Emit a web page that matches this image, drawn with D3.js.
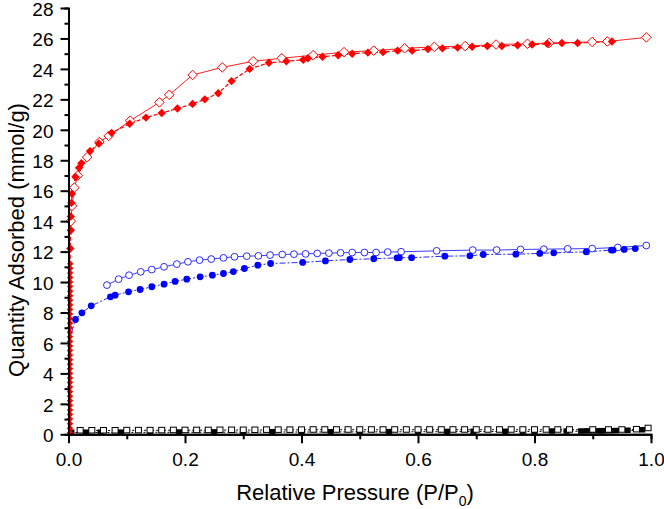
<!DOCTYPE html>
<html>
<head>
<meta charset="utf-8">
<script src="https://cdn.jsdelivr.net/npm/d3@7/dist/d3.min.js"></script>
<style>
  html, body { margin: 0; padding: 0; background: #fff; }
  svg { display: block; }
  text { font-family: "Liberation Sans", Arial, sans-serif; fill: #000; }
</style>
</head>
<body>
<svg id="chart" width="664" height="509"></svg>
<script>
// ---------------- DATA ----------------
const xTicks = [0, 0.2, 0.4, 0.6, 0.8, 1.0];
const xTickLabels = ["0.0", "0.2", "0.4", "0.6", "0.8", "1.0"];
const xMinorTicks = [0.1, 0.3, 0.5, 0.7, 0.9];
const yTicks = [0, 2, 4, 6, 8, 10, 12, 14, 16, 18, 20, 22, 24, 26, 28];
const yMinorTicks = [1, 3, 5, 7, 9, 11, 13, 15, 17, 19, 21, 23, 25, 27];

// Red: adsorption (filled diamonds)
const redAdsX = [0.0025,0.0025,0.0025,0.0025,0.0025,0.0025,0.0025,0.0025,0.0025,0.0025,0.0025,0.0025,0.0025,0.0025,0.0025,0.0025,0.0025,0.0025,0.0025,0.0025,0.0025,0.0025,0.0025,0.0025,0.0025,0.0025,0.0025,0.0025,0.0028,0.0028,0.0028,0.0028,0.0028,0.0028,0.0028,0.0028,0.003,0.003,
  0.003,0.004,0.004,0.005,0.006,0.012,0.018,0.022,0.037,0.052,0.074,0.105,0.133,0.160,0.187,0.213,0.234,0.257,0.280,0.311,0.344,0.374,0.403,0.411,0.436,0.463,0.487,0.514,0.540,0.565,0.590,0.617,0.642,0.668,0.693,0.719,0.744,0.771,0.796,0.822,0.847,0.874,0.933];
const redAdsY = [0.1,0.4,0.7,1.0,1.3,1.6,1.9,2.2,2.5,2.8,3.1,3.4,3.7,4.0,4.3,4.6,4.9,5.2,5.5,5.8,6.1,6.4,6.7,7.0,7.3,7.6,7.9,8.2,8.5,8.8,9.1,9.4,9.7,10.0,10.3,10.6,10.9,11.2,
  12.2,13.4,14.3,15.2,15.8,16.9,17.5,17.8,18.6,19.1,19.8,20.4,20.8,21.1,21.4,21.7,22.0,22.4,23.2,24.0,24.4,24.5,24.6,24.7,24.8,24.9,25.0,25.07,25.1,25.2,25.2,25.3,25.35,25.4,25.45,25.5,25.5,25.55,25.6,25.65,25.7,25.7,25.8];

// Red: desorption (open diamonds)
const redDesX = [0.004,0.006,0.010,0.016,0.032,0.053,0.069,0.106,0.156,0.173,0.213,0.264,0.317,0.366,0.420,0.473,0.524,0.577,0.628,0.681,0.734,0.788,0.825,0.899,0.925,0.992];
const redDesY = [14.0,15.0,16.2,17.0,18.2,19.2,19.6,20.6,21.8,22.3,23.6,24.1,24.5,24.7,24.9,25.1,25.2,25.35,25.45,25.5,25.6,25.65,25.7,25.77,25.8,26.07];

// Blue: adsorption (filled circles)
const blueAdsX = [0.001,0.002,0.003,0.012,0.023,0.039,0.072,0.080,0.103,0.123,0.143,0.164,0.183,0.203,0.226,0.247,0.266,0.283,0.302,0.325,0.347,0.402,0.441,0.483,0.524,0.564,0.568,0.589,0.646,0.689,0.712,0.768,0.809,0.833,0.889,0.932,0.935,0.954,0.973];
const blueAdsY = [2.0,5.0,6.4,7.54,7.98,8.44,9.03,9.14,9.36,9.51,9.69,9.86,10.04,10.19,10.34,10.45,10.56,10.69,10.89,11.11,11.22,11.29,11.39,11.48,11.53,11.59,11.6,11.6,11.70,11.72,11.81,11.83,11.88,11.92,11.98,12.10,12.1,12.14,12.2];

// Blue: desorption (open circles)
const blueDesX = [0.066,0.086,0.104,0.124,0.143,0.164,0.186,0.205,0.225,0.245,0.266,0.285,0.306,0.326,0.346,0.367,0.387,0.407,0.427,0.447,0.467,0.487,0.508,0.528,0.548,0.571,0.632,0.694,0.735,0.776,0.816,0.857,0.899,0.943,0.992];
const blueDesY = [9.80,10.19,10.45,10.67,10.82,11.0,11.18,11.33,11.44,11.51,11.59,11.66,11.70,11.72,11.77,11.81,11.83,11.85,11.88,11.90,11.92,11.94,11.94,11.94,11.97,11.99,12.05,12.10,12.10,12.14,12.16,12.18,12.2,12.27,12.4];

// Black: adsorption (filled squares)
const blackAdsX = [0.005,0.03,0.055,0.09,0.14,0.19,0.25,0.30,0.35,0.40,0.45,0.50,0.55,0.60,0.65,0.695,0.75,0.78,0.80,0.83,0.855,0.88,0.89,0.90,0.91,0.915,0.92,0.93,0.94,0.96,0.985];
const blackAdsY = [0.12,0.12,0.12,0.12,0.13,0.13,0.14,0.14,0.15,0.15,0.15,0.16,0.16,0.17,0.17,0.18,0.18,0.19,0.19,0.2,0.2,0.2,0.21,0.21,0.21,0.22,0.22,0.22,0.23,0.25,0.28];

// Black: desorption (open squares)
const blackDesX = [0.02,0.04,0.06,0.08,0.10,0.12,0.14,0.16,0.18,0.20,0.22,0.24,0.26,0.28,0.30,0.32,0.34,0.36,0.38,0.40,0.42,0.44,0.46,0.48,0.50,0.52,0.54,0.56,0.58,0.60,0.62,0.64,0.66,0.68,0.70,0.72,0.74,0.76,0.78,0.80,0.82,0.84,0.86,0.90,0.927,0.95,0.975,0.995];
const blackDesY = [0.25,0.25,0.25,0.25,0.26,0.26,0.26,0.26,0.27,0.27,0.27,0.27,0.28,0.28,0.28,0.28,0.29,0.29,0.29,0.29,0.3,0.3,0.3,0.3,0.3,0.3,0.3,0.3,0.3,0.3,0.3,0.3,0.3,0.3,0.3,0.3,0.3,0.3,0.3,0.3,0.3,0.3,0.3,0.3,0.3,0.3,0.32,0.4];

// ---------------- CHART ----------------
const svg = d3.select("#chart");
const x = d3.scaleLinear().domain([0, 1]).range([68.5, 651]);
const y = d3.scaleLinear().domain([0, 28]).range([434.3, 8]);

const zip = (xs, ys) => xs.map((v, i) => ({x: v, y: ys[i]}));
const line = d3.line().x(d => x(d.x)).y(d => y(d.y));

const plot = svg.append("g");

function drawLine(data, color, dash, width) {
  plot.append("path").datum(data)
    .attr("d", line).attr("fill", "none")
    .attr("stroke", color).attr("stroke-width", width)
    .attr("stroke-dasharray", dash);
}

// Black series
const blackAds = zip(blackAdsX, blackAdsY);
const blackDes = zip(blackDesX, blackDesY);
drawLine(blackAds, "#000", "2,2", 1);
drawLine(blackDes, "#000", "2,2", 1);
plot.selectAll(".bAds").data(blackAds).enter().append("rect")
  .attr("x", d => x(d.x) - 3).attr("y", d => y(d.y) - 3)
  .attr("width", 6).attr("height", 5.5).attr("fill", "#000");
plot.selectAll(".bDes").data(blackDes).enter().append("rect")
  .attr("x", d => x(d.x) - 3).attr("y", d => y(d.y) - 3)
  .attr("width", 6).attr("height", 5.5).attr("fill", "#fff")
  .attr("stroke", "#000").attr("stroke-width", 1);

// Blue series
const blueAds = zip(blueAdsX, blueAdsY);
const blueDes = zip(blueDesX, blueDesY);
drawLine(blueDes, "#3a3aff", null, 1);
drawLine(blueAds, "#2a2aff", "6,2,2,2", 1);
plot.selectAll(".blDes").data(blueDes).enter().append("circle")
  .attr("cx", d => x(d.x)).attr("cy", d => y(d.y)).attr("r", 3.4)
  .attr("fill", "#fff").attr("stroke", "#2a2aff").attr("stroke-width", 1);
plot.selectAll(".blAds").data(blueAds.filter(d => d.x > 0.005)).enter().append("circle")
  .attr("cx", d => x(d.x)).attr("cy", d => y(d.y)).attr("r", 3.4)
  .attr("fill", "#0000ff");

// Red series
const redAds = zip(redAdsX, redAdsY);
const redDes = zip(redDesX, redDesY);
drawLine(redDes, "#ff2020", null, 1);
drawLine(redAds, "#ff0000", "4,2", 1.2);
const diamond = (s) => `M0,${-s}L${s},0L0,${s}L${-s},0Z`;
plot.selectAll(".rDes").data(redDes).enter().append("path")
  .attr("transform", d => `translate(${x(d.x)},${y(d.y)})`)
  .attr("d", diamond(4.8)).attr("fill", "#fff")
  .attr("stroke", "#ff0000").attr("stroke-width", 1);
plot.selectAll(".rAds").data(redAds).enter().append("path")
  .attr("transform", d => `translate(${x(d.x)},${y(d.y)})`)
  .attr("d", d => diamond(d.y < 11.5 ? 3.2 : 4.2)).attr("fill", "#ff0000");

// ---------------- AXES ----------------
function styleAxis(g) {
  g.selectAll("path.domain").attr("stroke", "#000").attr("stroke-width", 2);
  g.selectAll(".tick line").attr("stroke", "#000").attr("stroke-width", 2);
  g.selectAll(".tick text").style("font-size", "19px").attr("fill", "#000");
}

const yMinor = svg.append("g").attr("transform", `translate(${x(0)},0)`)
  .call(d3.axisLeft(y).tickValues(yMinorTicks).tickSize(4).tickFormat(""));
styleAxis(yMinor);
const yMajor = svg.append("g").attr("transform", `translate(${x(0)},0)`)
  .call(d3.axisLeft(y).tickValues(yTicks).tickSize(8).tickSizeOuter(0).tickPadding(7).tickFormat(d3.format("d")));
styleAxis(yMajor);
yMajor.selectAll(".tick text").attr("dy", "0.38em");

const xMinor = svg.append("g").attr("transform", `translate(0,${y(0)})`)
  .call(d3.axisBottom(x).tickValues(xMinorTicks).tickSize(5).tickFormat(""));
styleAxis(xMinor);
const xMajor = svg.append("g").attr("transform", `translate(0,${y(0)})`)
  .call(d3.axisBottom(x).tickValues(xTicks).tickSize(9).tickSizeOuter(0).tickPadding(9)
    .tickFormat((d, i) => xTickLabels[i]));
styleAxis(xMajor);

// Axis titles
svg.append("text")
  .attr("transform", "translate(24,240) rotate(-90)")
  .attr("text-anchor", "middle")
  .style("font-size", "22px")
  .text("Quantity Adsorbed (mmol/g)");

const xt = svg.append("text")
  .attr("x", 355).attr("y", 500)
  .attr("text-anchor", "middle")
  .style("font-size", "22px");
xt.append("tspan").text("Relative Pressure (P/P");
xt.append("tspan").text("0").style("font-size", "14px").attr("dy", 6);
xt.append("tspan").text(")").attr("dy", -6);
</script>
</body>
</html>
